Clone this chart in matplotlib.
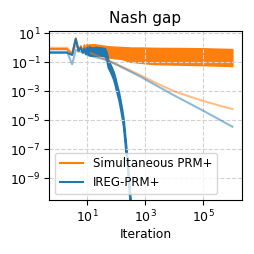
import numpy as np
import matplotlib
matplotlib.use("Agg")
import matplotlib.pyplot as plt
from matplotlib.ticker import NullLocator

# early iterations (x=0 gets clipped to the left edge on the log axis)
early_iters = [0, 1, 2, 3, 4, 5, 6, 7, 8, 9, 10, 11, 12]
orange_last_early = [0.83, 0.83, 0.83, 0.35, 4.6, 0.55, 1.3, 0.5, 1.5, 0.45, 1.6, 0.4, 1.5]
blue_last_early = [0.46, 0.46, 0.46, 0.32, 4.0, 0.7, 1.0, 0.45, 0.9, 0.35, 1.0, 0.3, 1.1]

# oscillating last iterate of simultaneous PRM+ (envelope)
orange_band_x = [12, 15, 20, 30, 50, 90, 150, 230, 300, 660, 2000, 1e4, 1e5, 1e6]
orange_band_hi = [1.6, 1.8, 1.7, 1.5, 1.3, 1.2, 1.15, 1.1, 1.05, 1.05, 1.0, 0.98, 0.93, 0.83]
orange_band_lo = [0.4, 0.35, 0.32, 0.3, 0.22, 0.19, 0.17, 0.13, 0.11, 0.093, 0.075, 0.07, 0.063, 0.055]

# last iterate of IREG-PRM+ (envelope)
blue_band_x = [12, 15, 20, 30, 40, 46, 52, 65, 79, 90, 103, 120, 134, 155, 175, 200, 230, 260, 300]
blue_band_hi = [1.1, 1.0, 1.1, 1.0, 0.9, 0.45, 0.14, 0.056, 0.022, 8.9e-3, 2.8e-3, 8.9e-4, 2.8e-4,
                5.6e-5, 1.1e-5, 7.1e-7, 3.5e-8, 1.8e-9, 4.5e-11]
blue_band_lo = [0.3, 0.3, 0.3, 0.3, 0.28, 0.14, 0.045, 0.018, 7.1e-3, 2.8e-3, 8.9e-4, 2.8e-4,
                8.9e-5, 1.8e-5, 3.5e-6, 2.2e-7, 1.1e-8, 5.6e-10, 1.4e-11]

# averaged iterates
orange_avg_x = [0, 1, 2, 3, 4, 5, 6, 8, 10, 20, 47, 100, 300, 660, 2500, 9300, 16000, 78000, 380000, 1e6]
orange_avg = [1.0, 1.0, 1.0, 0.45, 1.3, 1.0, 0.9, 0.7, 0.55, 0.3, 0.145, 0.075, 0.028, 0.013,
              3.5e-3, 1.05e-3, 7.2e-4, 2.5e-4, 1.0e-4, 6e-5]
blue_avg_x = [0, 1, 2, 3, 4, 5, 6, 8, 10, 20, 47, 100, 680, 9300, 1e5, 1e6]
blue_avg = [0.54, 0.54, 0.54, 0.072, 0.7, 0.6, 0.55, 0.45, 0.35, 0.22, 0.145, 0.07, 0.0102,
            5.5e-4, 4.5e-5, 3.6e-6]

c_orange = "#ff7f0e"
c_blue = "#1f77b4"

fig = plt.figure(figsize=(2.54, 2.54), dpi=100)
ax = fig.add_axes([49 / 254, 54 / 254, 192.7 / 254, 169 / 254])

ax.plot(early_iters, orange_last_early, color=c_orange, lw=1.5, label="Simultaneous PRM+")
ax.fill_between(orange_band_x, orange_band_lo, orange_band_hi, color=c_orange, lw=1.0)
ax.plot(orange_avg_x, orange_avg, color=c_orange, lw=1.5, alpha=0.5)

ax.plot(early_iters, blue_last_early, color=c_blue, lw=1.5, label="IREG-PRM+")
ax.fill_between(blue_band_x, blue_band_lo, blue_band_hi, color=c_blue, lw=1.5)
ax.plot(blue_avg_x, blue_avg, color=c_blue, lw=1.5, alpha=0.5)

ax.set_xscale("log")
ax.set_yscale("log")
ax.set_xlim(10 ** -0.32, 10 ** 6.32)
ax.set_ylim(10 ** -10.5, 10 ** 1.16)
ax.set_xticks([1e1, 1e3, 1e5])
ax.set_yticks([1e1, 1e-1, 1e-3, 1e-5, 1e-7, 1e-9])
ax.xaxis.set_minor_locator(NullLocator())
ax.yaxis.set_minor_locator(NullLocator())
ax.tick_params(labelsize=9, pad=2.5)
ax.grid(True, ls="--", color="0.82", lw=0.8)

ax.set_title("Nash gap", fontsize=11)
ax.set_xlabel("Iteration", fontsize=8.8, labelpad=2)
ax.legend(loc="lower left", fontsize=8.5)

fig.savefig("out.png", dpi=100)
